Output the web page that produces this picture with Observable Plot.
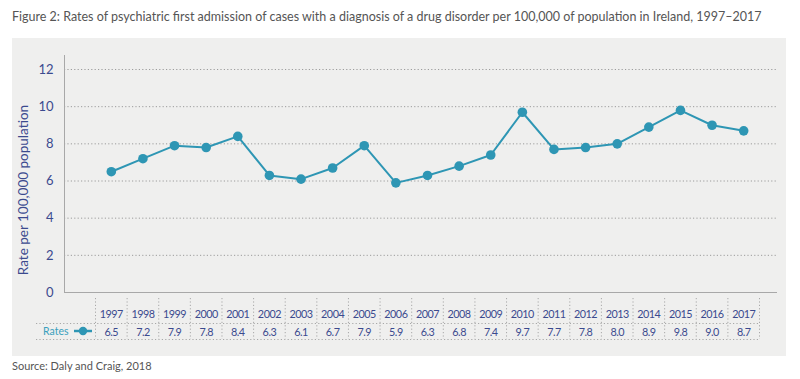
<!DOCTYPE html>
<html>
<head>
<meta charset="utf-8">
<script src="https://cdn.jsdelivr.net/npm/d3@7"></script>
<script src="https://cdn.jsdelivr.net/npm/@observablehq/plot@0.6"></script>
<style>
  html, body { margin: 0; padding: 0; background: #ffffff; width: 800px; height: 379px; overflow: hidden; }
  #title { position: absolute; left: 12px; top: 9px; font-family: Lato, sans-serif; font-size: 12.5px; color: #555; white-space: nowrap; }
  #panel { position: absolute; left: 12px; top: 38px; width: 774px; height: 318px; background: #efefee; }
  #chart { position: absolute; left: 0; top: 0; }
  #legend { position: absolute; left: 31px; top: 287px; display: flex; align-items: center; font-family: Lato, sans-serif; font-size: 10.5px; color: #3aa0bd; }
  #source { position: absolute; left: 12px; top: 359px; font-family: Lato, sans-serif; font-size: 11px; color: #555; }
  .tbl text { letter-spacing: -0.5px; }
</style>
</head>
<body>
<div id="title">Figure 2: Rates of psychiatric first admission of cases with a diagnosis of a drug disorder per 100,000 of population in Ireland, 1997–2017</div>
<div id="panel">
  <div id="chart"></div>
  <div id="legend"><span>Rates</span><svg width="22" height="12" style="margin-left:5px"><line x1="1" y1="6" x2="19" y2="6" stroke="#2e96b4" stroke-width="2.5"/><circle cx="10" cy="6" r="4.2" fill="#2e96b4"/></svg></div>
</div>
<div id="source">Source: Daly and Craig, 2018</div>
<script>
const years = [1997,1998,1999,2000,2001,2002,2003,2004,2005,2006,2007,2008,2009,2010,2011,2012,2013,2014,2015,2016,2017];
const rates = [6.5,7.2,7.9,7.8,8.4,6.3,6.1,6.7,7.9,5.9,6.3,6.8,7.4,9.7,7.7,7.8,8.0,8.9,9.8,9.0,8.7];
const yTicks = [0,2,4,6,8,10,12];
const yLabel = "Rate per 100,000 population";

const data = years.map((y, i) => ({year: y, rate: rates[i]}));
const edges = years.map(y => y - 0.5).concat([years[years.length - 1] + 0.5]);

const navy = "#3b4a8e";
const teal = "#2e96b4";
const dotted = "1.2,2.2";

let frameMark;
try { frameMark = Plot.frame({anchor: "left", stroke: "#a8a8a8"}); } catch (e) { frameMark = null; }

const chart = Plot.plot({
  width: 774,
  height: 318,
  marginLeft: 52,
  marginRight: 9,
  marginTop: 17,
  marginBottom: 64,
  style: {background: "transparent", fontFamily: "Lato, sans-serif", overflow: "visible"},
  x: {type: "linear", domain: [1996.5, 2017.5], insetLeft: 31, insetRight: 18, axis: null},
  y: {domain: [0, 12], insetTop: 14, axis: null},
  marks: [
    Plot.ruleY(yTicks.filter(d => d > 0), {stroke: "#9c9c9c", strokeDasharray: dotted, strokeWidth: 1}),
    Plot.ruleY([0], {stroke: "#a8a8a8", strokeWidth: 1.2}),
    frameMark,
    Plot.axisY({ticks: yTicks, tickSize: 0, tickPadding: 11, fontSize: 13, color: navy, label: null}),
    Plot.text([yLabel], {frameAnchor: "left", textAnchor: "middle", rotate: -90, dx: -41, dy: 16, fontSize: 13.5, fill: navy}),
    Plot.line(data, {x: "year", y: "rate", stroke: teal, strokeWidth: 2}),
    Plot.dot(data, {x: "year", y: "rate", fill: teal, r: 4.8}),
    // table
    Plot.ruleX(edges, {y1: 0, y2: 0, insetTop: 6, insetBottom: -47, stroke: "#a8a8a8", strokeDasharray: dotted}),
    Plot.ruleY([0], {dy: 31, insetLeft: -28, insetRight: 18, stroke: "#a8a8a8", strokeDasharray: dotted}),
    Plot.ruleY([0], {dy: 47, insetLeft: -28, insetRight: 18, stroke: "#a8a8a8", strokeDasharray: dotted}),
    Plot.text(data, {x: "year", y: 0, text: d => String(d.year), dy: 22, fontSize: 10.8, fill: navy, className: "tbl"}),
    Plot.text(data, {x: "year", y: 0, text: d => d.rate.toFixed(1), dy: 40, fontSize: 10.8, fill: navy, className: "tbl"})
  ].filter(Boolean)
});
document.getElementById("chart").appendChild(chart);
</script>
</body>
</html>
